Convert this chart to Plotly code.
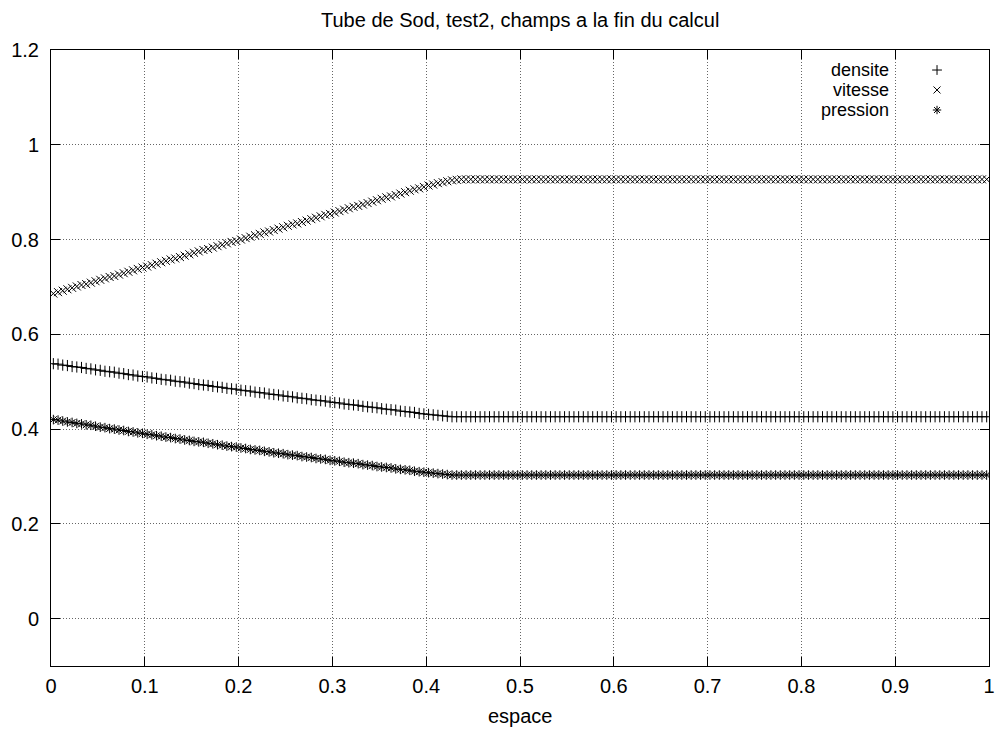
import plotly.graph_objects as go

# Grid of the 200 cells (cell centres)
espace = [round(0.0025 + 0.005 * i, 4) for i in range(200)]

densite = [
    0.538, 0.537, 0.535, 0.534, 0.532, 0.531, 0.530, 0.528, 0.527, 0.525,
    0.524, 0.522, 0.521, 0.520, 0.518, 0.517, 0.515, 0.514, 0.512, 0.511,
    0.510, 0.508, 0.507, 0.505, 0.504, 0.503, 0.501, 0.500, 0.499, 0.497,
    0.496, 0.494, 0.493, 0.492, 0.490, 0.489, 0.488, 0.486, 0.485, 0.484,
    0.482, 0.481, 0.480, 0.478, 0.477, 0.476, 0.474, 0.473, 0.472, 0.470,
    0.469, 0.468, 0.466, 0.465, 0.464, 0.462, 0.461, 0.460, 0.459, 0.457,
    0.456, 0.455, 0.453, 0.452, 0.451, 0.450, 0.448, 0.447, 0.446, 0.445,
    0.443, 0.442, 0.441, 0.440, 0.438, 0.437, 0.436, 0.435, 0.433, 0.432,
    0.431, 0.430, 0.429, 0.428, 0.427, 0.426, 0.426, 0.426, 0.426, 0.426,
    0.426, 0.426, 0.426, 0.426, 0.426, 0.426, 0.426, 0.426, 0.426, 0.426,
    0.426, 0.426, 0.426, 0.426, 0.426, 0.426, 0.426, 0.426, 0.426, 0.426,
    0.426, 0.426, 0.426, 0.426, 0.426, 0.426, 0.426, 0.426, 0.426, 0.426,
    0.426, 0.426, 0.426, 0.426, 0.426, 0.426, 0.426, 0.426, 0.426, 0.426,
    0.426, 0.426, 0.426, 0.426, 0.426, 0.426, 0.426, 0.426, 0.426, 0.426,
    0.426, 0.426, 0.426, 0.426, 0.426, 0.426, 0.426, 0.426, 0.426, 0.426,
    0.426, 0.426, 0.426, 0.426, 0.426, 0.426, 0.426, 0.426, 0.426, 0.426,
    0.426, 0.426, 0.426, 0.426, 0.426, 0.426, 0.426, 0.426, 0.426, 0.426,
    0.426, 0.426, 0.426, 0.426, 0.426, 0.426, 0.426, 0.426, 0.426, 0.426,
    0.426, 0.426, 0.426, 0.426, 0.426, 0.426, 0.426, 0.426, 0.426, 0.426,
    0.426, 0.426, 0.426, 0.426, 0.426, 0.426, 0.426, 0.426, 0.426, 0.426,
]

vitesse = [
    0.686, 0.689, 0.692, 0.695, 0.698, 0.701, 0.704, 0.706, 0.709, 0.712,
    0.715, 0.718, 0.721, 0.723, 0.726, 0.729, 0.732, 0.735, 0.738, 0.741,
    0.743, 0.746, 0.749, 0.752, 0.755, 0.758, 0.760, 0.763, 0.766, 0.769,
    0.772, 0.775, 0.778, 0.780, 0.783, 0.786, 0.789, 0.792, 0.795, 0.797,
    0.800, 0.803, 0.806, 0.809, 0.812, 0.815, 0.817, 0.820, 0.823, 0.826,
    0.829, 0.832, 0.834, 0.837, 0.840, 0.843, 0.846, 0.849, 0.852, 0.854,
    0.857, 0.860, 0.863, 0.866, 0.869, 0.871, 0.874, 0.877, 0.880, 0.883,
    0.886, 0.889, 0.891, 0.894, 0.897, 0.900, 0.903, 0.906, 0.908, 0.911,
    0.914, 0.916, 0.919, 0.921, 0.923, 0.925, 0.926, 0.927, 0.927, 0.927,
    0.927, 0.927, 0.927, 0.927, 0.927, 0.927, 0.927, 0.927, 0.927, 0.927,
    0.927, 0.927, 0.927, 0.927, 0.927, 0.927, 0.927, 0.927, 0.927, 0.927,
    0.927, 0.927, 0.927, 0.927, 0.927, 0.927, 0.927, 0.927, 0.927, 0.927,
    0.927, 0.927, 0.927, 0.927, 0.927, 0.927, 0.927, 0.927, 0.927, 0.927,
    0.927, 0.927, 0.927, 0.927, 0.927, 0.927, 0.927, 0.927, 0.927, 0.927,
    0.927, 0.927, 0.927, 0.927, 0.927, 0.927, 0.927, 0.927, 0.927, 0.927,
    0.927, 0.927, 0.927, 0.927, 0.927, 0.927, 0.927, 0.927, 0.927, 0.927,
    0.927, 0.927, 0.927, 0.927, 0.927, 0.927, 0.927, 0.927, 0.927, 0.927,
    0.927, 0.927, 0.927, 0.927, 0.927, 0.927, 0.927, 0.927, 0.927, 0.927,
    0.927, 0.927, 0.927, 0.927, 0.927, 0.927, 0.927, 0.927, 0.927, 0.927,
    0.927, 0.927, 0.927, 0.927, 0.927, 0.927, 0.927, 0.927, 0.927, 0.927,
]

pression = [
    0.420, 0.419, 0.417, 0.415, 0.414, 0.412, 0.411, 0.409, 0.408, 0.406,
    0.404, 0.403, 0.401, 0.400, 0.398, 0.397, 0.395, 0.394, 0.392, 0.391,
    0.389, 0.388, 0.386, 0.385, 0.383, 0.382, 0.380, 0.379, 0.377, 0.376,
    0.374, 0.373, 0.372, 0.370, 0.369, 0.367, 0.366, 0.364, 0.363, 0.362,
    0.360, 0.359, 0.357, 0.356, 0.355, 0.353, 0.352, 0.350, 0.349, 0.348,
    0.346, 0.345, 0.344, 0.342, 0.341, 0.340, 0.338, 0.337, 0.336, 0.334,
    0.333, 0.332, 0.330, 0.329, 0.328, 0.327, 0.325, 0.324, 0.323, 0.321,
    0.320, 0.319, 0.318, 0.316, 0.315, 0.314, 0.313, 0.311, 0.310, 0.309,
    0.308, 0.307, 0.306, 0.305, 0.304, 0.303, 0.303, 0.303, 0.303, 0.303,
    0.303, 0.303, 0.303, 0.303, 0.303, 0.303, 0.303, 0.303, 0.303, 0.303,
    0.303, 0.303, 0.303, 0.303, 0.303, 0.303, 0.303, 0.303, 0.303, 0.303,
    0.303, 0.303, 0.303, 0.303, 0.303, 0.303, 0.303, 0.303, 0.303, 0.303,
    0.303, 0.303, 0.303, 0.303, 0.303, 0.303, 0.303, 0.303, 0.303, 0.303,
    0.303, 0.303, 0.303, 0.303, 0.303, 0.303, 0.303, 0.303, 0.303, 0.303,
    0.303, 0.303, 0.303, 0.303, 0.303, 0.303, 0.303, 0.303, 0.303, 0.303,
    0.303, 0.303, 0.303, 0.303, 0.303, 0.303, 0.303, 0.303, 0.303, 0.303,
    0.303, 0.303, 0.303, 0.303, 0.303, 0.303, 0.303, 0.303, 0.303, 0.303,
    0.303, 0.303, 0.303, 0.303, 0.303, 0.303, 0.303, 0.303, 0.303, 0.303,
    0.303, 0.303, 0.303, 0.303, 0.303, 0.303, 0.303, 0.303, 0.303, 0.303,
    0.303, 0.303, 0.303, 0.303, 0.303, 0.303, 0.303, 0.303, 0.303, 0.303,
]

series_names = ["densite", "vitesse", "pression"]
series_symbols = ["cross-thin", "x-thin", "asterisk-open"]
x_ticks = [0, 0.1, 0.2, 0.3, 0.4, 0.5, 0.6, 0.7, 0.8, 0.9, 1]
x_tick_labels = ["0", "0.1", "0.2", "0.3", "0.4", "0.5", "0.6", "0.7", "0.8", "0.9", "1"]
y_ticks = [0, 0.2, 0.4, 0.6, 0.8, 1.0, 1.2]
y_tick_labels = ["0", "0.2", "0.4", "0.6", "0.8", "1", "1.2"]

FONT = "Liberation Sans, Arial, sans-serif"
FS = 20
FS_KEY = 18
INK = "black"

fig = go.Figure()
for name, vals, sym in zip(series_names, [densite, vitesse, pression], series_symbols):
    fig.add_trace(go.Scatter(
        x=espace, y=vals, mode="markers", name=name, showlegend=False,
        marker=dict(symbol=sym, size=8, color=INK, line=dict(color=INK, width=1)),
    ))

# gnuplot-style key: label right-aligned, sample symbol to its right
key_rows_y = [0.9675, 0.9351, 0.9026]
key_text_x = 0.8955
key_mark_x = 0.9446
fig.add_trace(go.Scatter(
    x=[key_mark_x] * 3, y=key_rows_y, mode="markers", xaxis="x2", yaxis="y2",
    showlegend=False, hoverinfo="skip",
    marker=dict(symbol=series_symbols, size=7, color=INK, line=dict(color=INK, width=1)),
))
for name, yy in zip(series_names, key_rows_y):
    fig.add_annotation(x=key_text_x, y=yy, xref="paper", yref="paper", text=name,
                       showarrow=False, xanchor="right", yanchor="middle",
                       font=dict(family=FONT, size=FS_KEY, color=INK))

# title and x-axis title as positioned text
fig.add_annotation(x=0.5, y=(666 - 20) / 616, xref="paper", yref="paper",
                   text="Tube de Sod, test2, champs a la fin du calcul",
                   showarrow=False, xanchor="center", yanchor="middle",
                   font=dict(family=FONT, size=FS, color=INK))
fig.add_annotation(x=0.5, y=(666 - 716) / 616, xref="paper", yref="paper",
                   text="espace", showarrow=False, xanchor="center", yanchor="middle",
                   font=dict(family=FONT, size=FS, color=INK))

# key box blanks the grid behind it
fig.add_shape(type="rect", xref="paper", yref="paper", x0=0.7995, x1=0.958,
              y0=0.8815, y1=0.9886, fillcolor="white", line=dict(width=0), layer="between")

axis_common = dict(
    showline=True, linecolor=INK, linewidth=1, mirror="ticks",
    ticks="inside", ticklen=9, tickcolor=INK, tickwidth=1,
    showgrid=True, gridcolor="#666666", griddash="1px,2px", gridwidth=1,
    zeroline=False, automargin=False, ticklabeloverflow="allow",
    tickfont=dict(family=FONT, size=FS, color=INK),
)

fig.update_layout(
    width=997, height=733,
    margin=dict(l=51, r=8, t=50, b=67),
    paper_bgcolor="white", plot_bgcolor="white",
    font=dict(family=FONT, size=FS, color=INK),
    xaxis=dict(range=[0, 1], tickvals=x_ticks, ticktext=x_tick_labels,
               ticklabelstandoff=2, **axis_common),
    yaxis=dict(range=[-0.1, 1.2], tickvals=y_ticks, ticktext=y_tick_labels,
               ticklabelstandoff=7, **axis_common),
    xaxis2=dict(overlaying="x", range=[0, 1], visible=False),
    yaxis2=dict(overlaying="y", range=[0, 1], visible=False),
)

fig.write_html("out.html", config={"displayModeBar": False},
               post_script="document.body.style.margin='0';document.body.style.overflow='hidden';")
